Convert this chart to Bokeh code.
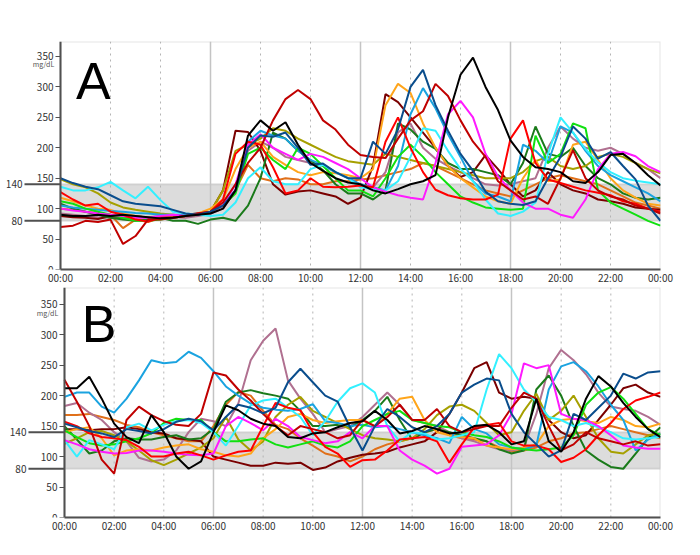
from bokeh.plotting import figure
from bokeh.models import Span, BoxAnnotation, Label, Arrow, FixedTicker, Range1d
from bokeh.layouts import column
from bokeh.embed import file_html
from bokeh.resources import INLINE

HOURS = [0, 0.5, 1, 1.5, 2, 2.5, 3, 3.5, 4, 4.5, 5, 5.5, 6, 6.5, 7, 7.5, 8, 8.5, 9, 9.5,
         10, 10.5, 11, 11.5, 12, 12.5, 13, 13.5, 14, 14.5, 15, 15.5, 16, 16.5, 17, 17.5,
         18, 18.5, 19, 19.5, 20, 20.5, 21, 21.5, 22, 22.5, 23, 23.5, 24]
X_TICKS = [0, 2, 4, 6, 8, 10, 12, 14, 16, 18, 20, 22, 24]
X_TICK_LABELS = ["00:00", "02:00", "04:00", "06:00", "08:00", "10:00", "12:00",
                 "14:00", "16:00", "18:00", "20:00", "22:00", "00:00"]
Y_TICKS = [0, 50, 100, 150, 200, 250, 300, 350]
TARGET_LOW = 80
TARGET_HIGH = 140
SOLID_GRID = [6, 12, 18]
DOTTED_GRID = [2, 4, 8, 10, 14, 16, 20, 22]
UNIT = "mg/dL"

COLORS = {
    "black": "#000000", "navy": "#0a4d8c", "sky": "#1aa3e0", "cyan": "#33f0ff",
    "red": "#ff0000", "darkred": "#c00000", "maroon": "#7a0000", "orange": "#ffa51a",
    "darkorange": "#e0701a", "lime": "#10e010", "darkgreen": "#1a7a1a",
    "magenta": "#ff1aff", "mauve": "#b07090", "olive": "#a6a000",
}

# ---------------- Panel A ----------------
A_black = [90, 88, 88, 90, 88, 90, 88, 86, 84, 85, 88, 90, 92, 100, 130, 220, 245, 228, 242, 205,
           175, 162, 150, 143, 140, 130, 125, 132, 140, 145, 155, 250, 320, 348, 300, 262, 212, 185, 168, 165,
           160, 145, 142, 160, 188, 190, 175, 155, 138]
A_navy = [150, 142, 136, 132, 122, 112, 108, 106, 104, 98, 92, 90, 95, 105, 130, 200, 220, 218, 225, 200,
          172, 174, 160, 150, 150, 210, 190, 230, 300, 328, 270, 228, 190, 162, 128, 112, 108, 106, 112, 150,
          185, 235, 215, 182, 193, 170, 148, 105, 80]
A_sky = [105, 102, 100, 98, 96, 95, 93, 92, 90, 90, 90, 92, 95, 105, 130, 210, 228, 220, 215, 195,
         180, 172, 160, 150, 140, 135, 130, 170, 255, 298, 265, 222, 185, 145, 125, 120, 112, 205, 195, 175,
         235, 225, 195, 170, 155, 145, 135, 125, 112]
A_cyan = [136, 130, 130, 135, 144, 130, 117, 136, 114, 95, 92, 90, 88, 90, 110, 150, 168, 145, 140, 140,
          165, 172, 160, 150, 135, 132, 130, 145, 185, 232, 228, 195, 165, 145, 115, 92, 88, 95, 110, 190,
          250, 225, 198, 176, 160, 150, 146, 143, 140]
A_red = [127, 115, 105, 108, 95, 90, 82, 79, 85, 85, 88, 92, 95, 115, 190, 210, 205, 168, 125, 130,
         150, 136, 135, 136, 138, 135, 210, 250, 200, 160, 131, 122, 117, 115, 115, 123, 215, 245, 175, 148,
         142, 136, 130, 126, 122, 112, 108, 100, 95]
A_darkred = [70, 72, 80, 78, 82, 42, 55, 82, 82, 85, 88, 92, 95, 110, 140, 175, 200, 245, 280, 295,
             280, 245, 230, 205, 188, 185, 183, 215, 245, 260, 305, 285, 245, 210, 185, 145, 130, 115, 120, 108,
             150, 196, 150, 130, 120, 115, 105, 100, 92]
A_maroon = [88, 86, 85, 83, 88, 86, 88, 85, 85, 86, 90, 92, 95, 130, 228, 226, 195, 140, 123, 128,
            130, 125, 120, 108, 118, 170, 288, 275, 250, 225, 200, 170, 152, 160, 188, 165, 140, 120, 130, 160,
            140, 130, 125, 115, 112, 108, 102, 100, 98]
A_orange = [118, 112, 105, 100, 98, 92, 88, 85, 85, 85, 88, 92, 100, 115, 165, 200, 210, 185, 172, 160,
            155, 160, 158, 155, 150, 165, 270, 305, 290, 240, 200, 170, 150, 135, 120, 112, 108, 150, 180, 145,
            148, 205, 210, 180, 150, 130, 118, 108, 105]
A_darkorange = [100, 98, 95, 93, 90, 68, 82, 78, 85, 88, 90, 92, 95, 105, 130, 172, 150, 145, 150, 148,
                140, 140, 145, 145, 148, 150, 155, 160, 165, 175, 170, 160, 150, 140, 130, 125, 120, 130, 140, 150,
                155, 150, 145, 140, 130, 120, 110, 105, 100]
A_lime = [112, 108, 100, 95, 90, 85, 80, 80, 82, 85, 88, 90, 95, 105, 125, 190, 200, 180, 165, 200,
          190, 170, 150, 130, 130, 120, 150, 185, 205, 185, 160, 140, 120, 110, 102, 100, 98, 100, 220, 175,
          190, 240, 232, 130, 110, 100, 90, 80, 72]
A_darkgreen = [108, 100, 95, 90, 85, 82, 80, 82, 85, 80, 80, 75, 82, 85, 80, 105, 150, 225, 215, 195,
               180, 163, 140, 125, 125, 115, 130, 240, 230, 210, 198, 175, 165, 165, 160, 155, 140, 175, 235, 190,
               185, 200, 170, 150, 140, 125, 118, 115, 118]
A_magenta = [100, 97, 95, 92, 90, 88, 85, 85, 88, 90, 88, 90, 95, 105, 140, 205, 222, 200, 190, 180,
             190, 185, 175, 165, 150, 135, 128, 122, 118, 115, 175, 255, 277, 250, 190, 153, 130, 110, 100, 100,
             90, 85, 115, 165, 190, 193, 186, 170, 160]
A_mauve = [92, 90, 88, 86, 85, 84, 85, 86, 88, 86, 85, 88, 92, 100, 130, 195, 210, 200, 185, 180,
           175, 170, 160, 150, 140, 135, 160, 225, 240, 200, 182, 170, 160, 150, 140, 138, 140, 145, 150, 200,
           235, 215, 200, 195, 200, 190, 175, 165, 150]
A_olive = [148, 140, 135, 125, 110, 102, 98, 95, 92, 90, 88, 90, 95, 130, 195, 205, 215, 232, 228, 215,
           205, 195, 185, 178, 175, 172, 190, 185, 180, 175, 170, 165, 160, 155, 150, 150, 150, 160, 178, 185,
           170, 165, 170, 185, 190, 185, 175, 165, 158]

# ---------------- Panel B ----------------
B_sky = [198, 205, 205, 182, 172, 195, 225, 258, 253, 255, 272, 262, 240, 215, 200, 187, 180, 177, 175, 178,
         186, 158, 155, 150, 152, 148, 150, 145, 140, 135, 130, 122, 165, 145, 138, 120, 115, 112, 118, 210,
         248, 255, 240, 215, 185, 160, 110, 128, 138]
B_black = [212, 212, 231, 195, 154, 132, 122, 168, 140, 100, 80, 92, 140, 184, 176, 162, 154, 150, 132, 130,
           138, 140, 148, 155, 158, 175, 160, 138, 142, 150, 145, 138, 140, 150, 152, 140, 120, 125, 195, 125,
           108, 140, 195, 232, 215, 188, 165, 145, 132]
B_maroon = [145, 145, 143, 145, 145, 148, 145, 140, 138, 130, 128, 125, 100, 95, 90, 85, 85, 90, 88, 90,
            78, 82, 92, 98, 103, 105, 108, 115, 120, 125, 140, 170, 205, 245, 255, 205, 195, 198, 195, 160,
            140, 130, 135, 160, 185, 212, 218, 205, 198]
B_darkred = [226, 190, 150, 95, 72, 160, 182, 168, 158, 152, 150, 170, 238, 233, 210, 192, 170, 150, 135, 150,
             145, 140, 130, 135, 160, 150, 165, 185, 160, 160, 178, 150, 140, 145, 150, 150, 180, 205, 195, 150,
             110, 120, 140, 130, 125, 120, 125, 118, 120]
B_navy = [154, 148, 142, 138, 132, 145, 142, 138, 145, 157, 162, 158, 143, 165, 185, 180, 171, 180, 222, 244,
          222, 200, 190, 148, 110, 150, 178, 165, 148, 140, 150, 170, 205, 218, 228, 225, 170, 140, 120, 100,
          110, 170, 160, 180, 200, 236, 228, 238, 240]
B_cyan = [127, 100, 127, 120, 112, 148, 154, 143, 152, 158, 160, 155, 140, 118, 150, 184, 192, 195, 180, 165,
          135, 158, 190, 212, 220, 205, 150, 125, 140, 138, 128, 130, 135, 140, 210, 268, 245, 210, 190, 165,
          160, 150, 155, 148, 140, 130, 128, 130, 132]
B_red = [157, 150, 138, 132, 130, 127, 116, 100, 100, 105, 108, 102, 95, 102, 108, 110, 150, 188, 180, 176,
         140, 116, 105, 83, 94, 95, 110, 128, 130, 132, 125, 90, 120, 148, 152, 155, 125, 118, 118, 112,
         91, 98, 112, 135, 155, 178, 192, 198, 205]
B_orange = [140, 145, 148, 130, 102, 110, 112, 110, 115, 118, 120, 112, 108, 102, 100, 105, 130, 145, 165, 170,
            160, 155, 158, 160, 160, 150, 170, 195, 198, 160, 140, 135, 132, 130, 118, 115, 112, 115, 120, 150,
            160, 162, 158, 155, 165, 160, 150, 148, 154]
B_darkorange = [168, 168, 170, 165, 160, 152, 148, 140, 135, 130, 125, 125, 150, 185, 206, 200, 175, 152, 145, 130,
                118, 105, 100, 92, 100, 112, 120, 125, 130, 140, 145, 135, 130, 128, 125, 115, 108, 110, 115, 125,
                130, 138, 140, 145, 150, 145, 140, 135, 130]
B_lime = [143, 132, 122, 118, 120, 125, 130, 138, 155, 162, 160, 160, 140, 125, 125, 128, 130, 120, 115, 120,
          125, 118, 115, 125, 150, 160, 170, 175, 160, 155, 150, 148, 140, 135, 132, 125, 115, 112, 110, 112,
          115, 135, 185, 205, 214, 195, 170, 145, 135]
B_darkgreen = [150, 128, 105, 110, 125, 130, 128, 128, 132, 135, 128, 130, 145, 190, 205, 209, 204, 200, 195, 175,
               150, 150, 152, 148, 160, 175, 198, 160, 128, 140, 145, 140, 135, 130, 125, 112, 105, 110, 210, 233,
               200, 150, 110, 95, 83, 80, 105, 130, 148]
B_magenta = [127, 120, 112, 108, 105, 106, 110, 110, 108, 105, 103, 102, 105, 150, 165, 155, 143, 162, 150, 132,
             127, 122, 125, 140, 130, 150, 150, 110, 95, 85, 72, 80, 116, 118, 120, 135, 170, 253, 245, 250,
             170, 162, 160, 150, 135, 118, 115, 113, 113]
B_mauve = [183, 188, 172, 160, 140, 125, 98, 92, 95, 110, 140, 162, 158, 150, 187, 258, 290, 310, 225, 195,
           170, 140, 145, 150, 165, 185, 205, 185, 160, 155, 150, 140, 130, 125, 118, 112, 110, 115, 170, 245,
           275, 258, 235, 205, 182, 178, 175, 165, 152]
B_olive = [121, 130, 140, 142, 135, 125, 110, 94, 86, 95, 105, 115, 130, 165, 128, 110, 125, 165, 185, 198,
           175, 165, 155, 145, 135, 130, 128, 125, 130, 145, 168, 182, 185, 175, 155, 135, 140, 175, 203, 160,
           175, 200, 165, 130, 108, 105, 120, 135, 138]

A_SERIES = [("darkorange", A_darkorange), ("mauve", A_mauve), ("maroon", A_maroon), ("darkgreen", A_darkgreen),
            ("olive", A_olive), ("orange", A_orange), ("sky", A_sky), ("lime", A_lime), ("cyan", A_cyan),
            ("magenta", A_magenta), ("red", A_red), ("darkred", A_darkred), ("navy", A_navy), ("black", A_black)]
B_SERIES = [("darkorange", B_darkorange), ("mauve", B_mauve), ("maroon", B_maroon), ("darkgreen", B_darkgreen),
            ("olive", B_olive), ("orange", B_orange), ("sky", B_sky), ("lime", B_lime), ("cyan", B_cyan),
            ("magenta", B_magenta), ("red", B_red), ("darkred", B_darkred), ("navy", B_navy), ("black", B_black)]

AXIS_FONT = "Noto Sans CJK JP"
FRAME_W = 654


def make_panel(letter, series, x_start, ymax, frame_h, border_top, border_bottom,
               px_per_hour, letter_x, letter_y, unit_y):
    p = figure(frame_width=FRAME_W, frame_height=frame_h,
               x_range=Range1d(x_start, 24), y_range=Range1d(0, ymax),
               output_backend="svg", toolbar_location=None,
               min_border_left=6, min_border_right=20,
               min_border_top=border_top, min_border_bottom=border_bottom)
    p.background_fill_color = "white"
    p.border_fill_color = "white"
    p.outline_line_color = None
    p.xgrid.visible = False
    p.ygrid.visible = False

    xa = p.xaxis[0]
    xa.ticker = FixedTicker(ticks=X_TICKS)
    xa.bounds = (0, 24)
    xa.major_label_overrides = {t: s for t, s in zip(X_TICKS, X_TICK_LABELS)}
    xa.major_tick_out = 0
    xa.major_tick_in = 0
    xa.minor_tick_out = 0
    xa.minor_tick_in = 0
    xa.axis_line_color = "#505050"
    xa.axis_line_width = 2
    xa.major_label_text_font = AXIS_FONT
    xa.major_label_text_font_size = "10px"
    xa.major_label_text_color = "#333333"
    xa.major_label_standoff = 0

    ya = p.yaxis[0]
    ya.fixed_location = 0
    ya.bounds = (0, ymax)
    ya.ticker = FixedTicker(ticks=Y_TICKS)
    ya.major_tick_out = 5
    ya.major_tick_in = 0
    ya.minor_tick_out = 0
    ya.minor_tick_in = 0
    ya.major_tick_line_color = "#505050"
    ya.axis_line_color = "#505050"
    ya.axis_line_width = 2
    ya.major_label_text_font = AXIS_FONT
    ya.major_label_text_font_size = "10px"
    ya.major_label_text_color = "#333333"
    ya.major_label_standoff = 2

    # plot box (top / right edges visible)
    p.add_layout(BoxAnnotation(left=0, right=24, bottom=0, top=ymax, fill_color=None,
                               line_color="#a8a8a8", line_width=2, level="underlay"))
    # target band
    p.add_layout(BoxAnnotation(left=0, right=24, bottom=TARGET_LOW, top=TARGET_HIGH,
                               fill_color="#dcdcdc", fill_alpha=1, line_color="#a0a0a0",
                               line_width=2, level="underlay"))
    for h in DOTTED_GRID:
        p.add_layout(Span(location=h, dimension="height", line_color="#b4b4b4",
                          line_dash="dotted", line_width=1, level="underlay"))
    for h in SOLID_GRID:
        p.add_layout(Span(location=h, dimension="height", line_color="#c4c4c4",
                          line_width=1.5, level="underlay"))
    x0 = -36.0 / px_per_hour
    for lvl in (TARGET_LOW, TARGET_HIGH):
        p.add_layout(Arrow(x_start=x0, y_start=lvl, x_end=0, y_end=lvl, start=None, end=None,
                           line_color="#505050", line_width=2))
        p.add_layout(Label(x=x0, y=lvl, text=str(lvl), text_align="right", text_baseline="middle",
                           x_offset=-2, text_font=AXIS_FONT, text_font_size="10px",
                           text_color="#333333"))

    p.add_layout(Label(x=-17.0 / px_per_hour, y=unit_y, text=UNIT, text_align="center",
                       text_baseline="middle", text_font=AXIS_FONT, text_font_size="7px",
                       text_color="#555555"))

    for cname, vals in series:
        p.line(HOURS, vals, line_color=COLORS[cname], line_width=2)

    p.add_layout(Label(x=letter_x, y=letter_y, text=letter, text_font="Liberation Sans",
                       text_font_size="52px", text_baseline="alphabetic", text_color="black"))
    return p


pA = make_panel("A", A_SERIES, -2.16, 374.6, 228, 41, 0, 25.0, 0.62, 309, 338)
pB = make_panel("B", B_SERIES, -2.334, 377.4, 230, 0, 18, 24.835, 0.7, 317, 335)

layout = column(pA, pB)
open("out.html", "w").write(file_html(layout, INLINE))
